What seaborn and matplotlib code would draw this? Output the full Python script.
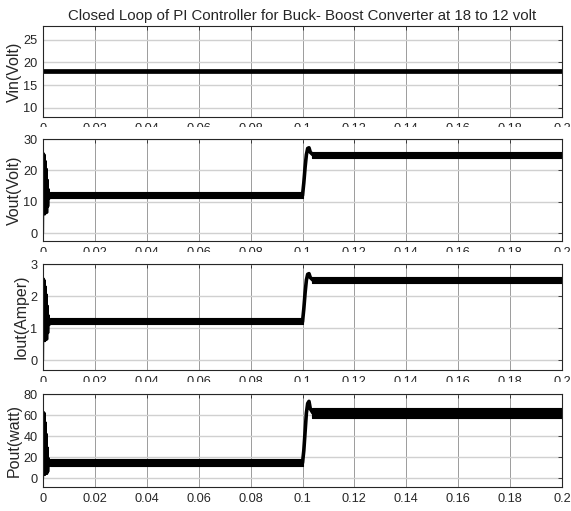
import matplotlib
matplotlib.use("Agg")
import matplotlib.pyplot as plt
from matplotlib.patches import Rectangle
import seaborn as sns

# ---------------- data ----------------
title = "Closed Loop of PI Controller for Buck- Boost Converter at 18 to 12 volt"
xticks = [0, 0.02, 0.04, 0.06, 0.08, 0.1, 0.12, 0.14, 0.16, 0.18, 0.2]
xtick_labels = ["0", "0.02", "0.04", "0.06", "0.08", "0.1", "0.12", "0.14", "0.16", "0.18", "0.2"]

# Vin
vin_t = [0.0, 0.2]
vin_v = [18.0, 18.0]

# Vout: start-up transient, step transient, ripple bands
vout_tr_t = [0.0, 0.0002, 0.0004, 0.0006, 0.0008, 0.0010, 0.0012, 0.0014, 0.0016, 0.0018, 0.0020, 0.0022, 0.0025, 0.0030]
vout_tr_v = [0.0, 25.5, 6.0, 25.0, 6.0, 23.0, 6.5, 20.5, 6.5, 17.0, 8.5, 14.0, 11.0, 12.0]
vout_st_t = [0.0995, 0.1000, 0.1005, 0.1010, 0.1015, 0.1020, 0.1025, 0.1030, 0.1040]
vout_st_v = [12.0, 12.0, 16.0, 21.0, 25.0, 27.0, 27.2, 25.8, 25.0]
vout_band_t0 = [0.0028, 0.1035]
vout_band_t1 = [0.1001, 0.2]
vout_band_lo = [11.1, 24.1]
vout_band_hi = [13.1, 26.0]

# Iout
iout_tr_t = [0.0, 0.0002, 0.0004, 0.0006, 0.0008, 0.0010, 0.0012, 0.0014, 0.0016, 0.0018, 0.0020, 0.0022, 0.0025, 0.0030]
iout_tr_v = [0.0, 2.55, 0.6, 2.5, 0.6, 2.3, 0.65, 2.05, 0.65, 1.7, 0.85, 1.4, 1.1, 1.2]
iout_st_t = [0.0995, 0.1000, 0.1005, 0.1010, 0.1015, 0.1020, 0.1025, 0.1030, 0.1040]
iout_st_v = [1.2, 1.2, 1.6, 2.1, 2.5, 2.68, 2.7, 2.58, 2.5]
iout_band_t0 = [0.0028, 0.1035]
iout_band_t1 = [0.1001, 0.2]
iout_band_lo = [1.12, 2.40]
iout_band_hi = [1.33, 2.60]

# Pout
pout_tr_t = [0.0, 0.0002, 0.0004, 0.0006, 0.0008, 0.0010, 0.0012, 0.0014, 0.0016, 0.0018, 0.0020, 0.0022, 0.0025, 0.0030]
pout_tr_v = [0.0, 63.0, 3.0, 62.0, 3.0, 53.0, 4.0, 42.0, 4.0, 29.0, 6.0, 19.0, 12.0, 15.0]
pout_st_t = [0.0995, 0.1000, 0.1005, 0.1010, 0.1015, 0.1020, 0.1025, 0.1030, 0.1040]
pout_st_v = [14.5, 14.5, 26.0, 44.0, 62.0, 71.0, 73.0, 66.0, 62.0]
pout_band_t0 = [0.0028, 0.1035]
pout_band_t1 = [0.1001, 0.2]
pout_band_lo = [11.5, 57.5]
pout_band_hi = [17.8, 67.0]

panels = [
    dict(name="Vin(Volt)", ylim=(8, 28), yticks=[10, 15, 20, 25]),
    dict(name="Vout(Volt)", ylim=(-2.5, 30), yticks=[0, 10, 20, 30]),
    dict(name="Iout(Amper)", ylim=(-0.3, 3), yticks=[0, 1, 2, 3]),
    dict(name="Pout(watt)", ylim=(-8.5, 80), yticks=[0, 20, 40, 60, 80]),
]

# ---------------- style ----------------
sns.set_style("white")
plt.rcParams["font.family"] = ["Liberation Sans", "DejaVu Sans"]
plt.rcParams["axes.edgecolor"] = "#262626"
plt.rcParams["axes.linewidth"] = 0.8

W, H = 571, 511
fig = plt.figure(figsize=(W / 100, H / 100), dpi=100)

# axes boxes in pixels: (top, bottom)
boxes = [(26, 117), (139, 241), (264, 370), (394, 487)]
left_px, right_px = 43, 562
axes = []
for (top, bot) in boxes:
    ax = fig.add_axes([left_px / W, (H - bot) / H, (right_px - left_px) / W, (bot - top) / H])
    axes.append(ax)

def style_axis(ax, p, show_title=False):
    ax.set_xlim(0, 0.2)
    ax.set_ylim(*p["ylim"])
    ax.set_xticks(xticks)
    ax.set_xticklabels(xtick_labels)
    ax.set_yticks(p["yticks"])
    ax.tick_params(direction="in", length=3, width=0.6, top=True, right=True,
                   labelsize=9.2, colors="#262626", pad=4)
    ax.xaxis.grid(True, color="#8c8c8c", linewidth=0.6)
    ax.yaxis.grid(True, color="#d0d0d0", linewidth=1.0)
    ax.set_axisbelow(True)
    ax.set_ylabel(p["name"], fontsize=11.5, labelpad=1.0, color="#262626")
    ax.set_xlabel("")
    if show_title:
        ax.set_title(title, fontsize=10.8, pad=4, color="#262626")

def draw_signal(ax, tr_t, tr_v, st_t, st_v, b0, b1, blo, bhi):
    for i in range(len(b0)):
        ax.fill_between([b0[i], b1[i]], [blo[i], blo[i]], [bhi[i], bhi[i]],
                        color="black", linewidth=0.8)
    sns.lineplot(x=tr_t, y=tr_v, ax=ax, color="black", linewidth=1.6,
                 estimator=None, sort=False)
    sns.lineplot(x=st_t, y=st_v, ax=ax, color="black", linewidth=2.6,
                 estimator=None, sort=False)

# Vin
sns.lineplot(x=vin_t, y=vin_v, ax=axes[0], color="black", linewidth=3.4, estimator=None)
style_axis(axes[0], panels[0], show_title=True)

draw_signal(axes[1], vout_tr_t, vout_tr_v, vout_st_t, vout_st_v,
            vout_band_t0, vout_band_t1, vout_band_lo, vout_band_hi)
style_axis(axes[1], panels[1])

draw_signal(axes[2], iout_tr_t, iout_tr_v, iout_st_t, iout_st_v,
            iout_band_t0, iout_band_t1, iout_band_lo, iout_band_hi)
style_axis(axes[2], panels[2])

draw_signal(axes[3], pout_tr_t, pout_tr_v, pout_st_t, pout_st_v,
            pout_band_t0, pout_band_t1, pout_band_lo, pout_band_hi)
style_axis(axes[3], panels[3])

# white strips that hide the lower part of the upper panels' x tick labels
for (y0, y1) in [(127, 134), (252, 259), (382, 389)]:
    fig.patches.append(Rectangle((35 / W, (H - y1) / H), (W - 35) / W, (y1 - y0) / H,
                                 transform=fig.transFigure, facecolor="white",
                                 edgecolor="none", zorder=5))

fig.savefig("out.png", dpi=100, facecolor="white")
